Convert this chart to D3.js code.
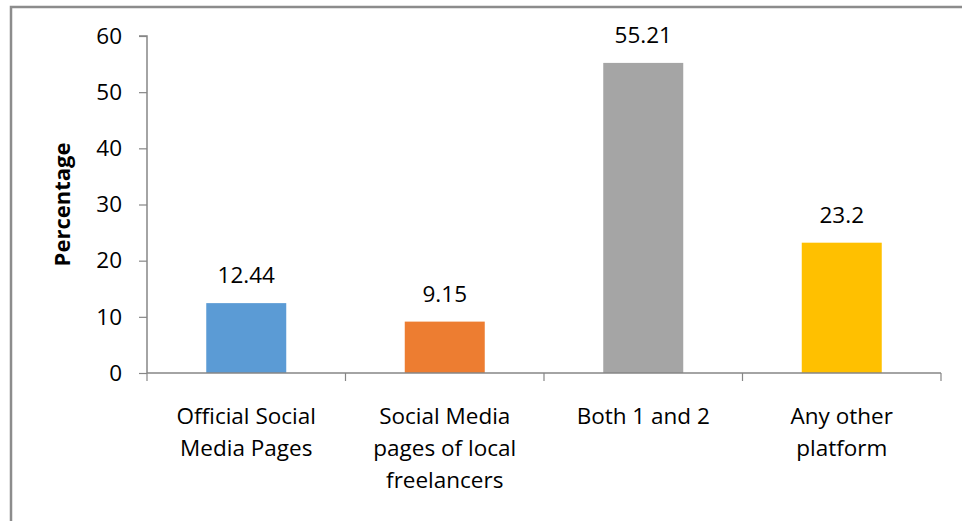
<!DOCTYPE html>
<html>
<head>
<meta charset="utf-8">
<script src="https://cdn.jsdelivr.net/npm/d3@7"></script>
<style>
  html, body { margin: 0; padding: 0; background: #fff; }
  svg { display: block; }
  text { font-family: "Open Sans", Lato, sans-serif; fill: #000; }
</style>
</head>
<body>
<svg id="chart" width="962" height="521"></svg>
<script>
// Survey data: where respondents look for platforms
const categories = ["Official Social Media Pages", "Social Media pages of local freelancers", "Both 1 and 2", "Any other platform"];
const categoryLines = [["Official Social", "Media Pages"], ["Social Media", "pages of local", "freelancers"], ["Both 1 and 2"], ["Any other", "platform"]];
const values = [12.44, 9.15, 55.21, 23.2];
const valueLabels = ["12.44", "9.15", "55.21", "23.2"];
const barColors = ["#5B9BD5", "#ED7D31", "#A5A5A5", "#FFC000"];
const yTicks = [0, 10, 20, 30, 40, 50, 60];

const svg = d3.select("#chart");
const axisColor = "#868686";
const fontFamily = "'Open Sans', Lato, sans-serif";
const fontSize = 22.5;

// outer chart frame (runs past the right and bottom edges)
svg.append("rect")
  .attr("x", 11).attr("y", 7)
  .attr("width", 1000).attr("height", 600)
  .attr("fill", "none").attr("stroke", "#8c8c8c").attr("stroke-width", 2.5);

const plot = { left: 147, right: 941, top: 36, bottom: 373 };

const x = d3.scaleBand().domain(categories).range([plot.left, plot.right]).paddingInner(0).paddingOuter(0);
const y = d3.scaleLinear().domain([0, 60]).range([plot.bottom, plot.top]);
const barW = x.bandwidth() * 0.403;

// y axis
const yAxis = svg.append("g").attr("transform", `translate(${plot.left},0)`)
  .call(d3.axisLeft(y).tickValues(yTicks).tickSize(8).tickPadding(17));
yAxis.select(".domain").attr("stroke", axisColor).attr("stroke-width", 1.5).attr("d", `M-8,${plot.top}H0V${plot.bottom}`);
yAxis.selectAll(".tick line").attr("stroke", axisColor).attr("stroke-width", 1.2);
yAxis.selectAll(".tick text").attr("font-size", fontSize).attr("fill", "#000").style("font-family", fontFamily);

// bars
svg.append("g").selectAll("rect").data(values).join("rect")
  .attr("x", (d, i) => x(categories[i]) + (x.bandwidth() - barW) / 2)
  .attr("y", d => y(d))
  .attr("width", barW)
  .attr("height", d => y(0) - y(d))
  .attr("fill", (d, i) => barColors[i]);

// x axis with category boundary ticks
const xg = svg.append("g");
xg.append("line").attr("x1", plot.left).attr("x2", plot.right)
  .attr("y1", y(0)).attr("y2", y(0)).attr("stroke", axisColor).attr("stroke-width", 1.5);
const bounds = categories.map(c => x(c)).concat([plot.right]);
xg.selectAll("line.tk").data(bounds).join("line").attr("class", "tk")
  .attr("x1", d => d).attr("x2", d => d)
  .attr("y1", y(0)).attr("y2", y(0) + 8)
  .attr("stroke", axisColor).attr("stroke-width", 1.2);

// category labels
categories.forEach((c, i) => {
  const t = svg.append("text")
    .attr("x", x(c) + x.bandwidth() / 2)
    .attr("y", 424)
    .attr("text-anchor", "middle")
    .attr("font-size", fontSize);
  categoryLines[i].forEach((line, j) => {
    t.append("tspan").attr("x", x(c) + x.bandwidth() / 2).attr("dy", j === 0 ? 0 : 32).text(line);
  });
});

// value labels
svg.append("g").selectAll("text").data(values).join("text")
  .attr("x", (d, i) => x(categories[i]) + x.bandwidth() / 2)
  .attr("y", d => y(d) - 20)
  .attr("text-anchor", "middle")
  .attr("font-size", fontSize)
  .text((d, i) => valueLabels[i]);

// y axis title
svg.append("text")
  .attr("transform", `translate(70,${(plot.top + plot.bottom) / 2}) rotate(-90)`)
  .attr("text-anchor", "middle")
  .attr("font-size", 22)
  .attr("font-weight", "bold")
  .text("Percentage");
</script>
</body>
</html>
